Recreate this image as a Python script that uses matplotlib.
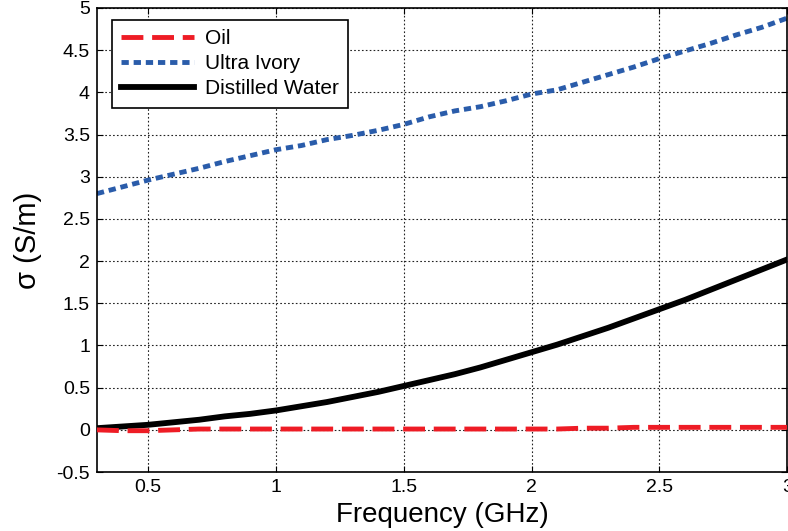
import numpy as np
import matplotlib.pyplot as plt

plt.rcParams['font.family'] = ['Liberation Sans', 'DejaVu Sans']

freq = [0.3, 0.4, 0.5, 0.6, 0.7, 0.8, 0.9, 1.0, 1.1, 1.2, 1.3, 1.4, 1.5, 1.6,
        1.7, 1.8, 1.9, 2.0, 2.1, 2.2, 2.3, 2.4, 2.5, 2.6, 2.7, 2.8, 2.9, 3.0]
oil = [0.0, -0.01, -0.01, 0.0, 0.01, 0.01, 0.01, 0.01, 0.01, 0.01, 0.01, 0.01, 0.01, 0.01,
       0.01, 0.01, 0.01, 0.01, 0.01, 0.02, 0.02, 0.03, 0.03, 0.03, 0.03, 0.03, 0.03, 0.03]
ivory = [2.80, 2.88, 2.96, 3.03, 3.10, 3.18, 3.25, 3.32, 3.37, 3.44, 3.49, 3.55, 3.62, 3.71,
         3.78, 3.83, 3.90, 3.98, 4.03, 4.12, 4.21, 4.30, 4.40, 4.49, 4.58, 4.68, 4.77, 4.88]
water = [0.02, 0.04, 0.06, 0.09, 0.12, 0.16, 0.19, 0.23, 0.28, 0.33, 0.39, 0.45, 0.52, 0.59,
         0.66, 0.74, 0.83, 0.92, 1.01, 1.11, 1.21, 1.32, 1.43, 1.54, 1.66, 1.78, 1.90, 2.02]

fig = plt.figure(figsize=(7.88, 5.31), dpi=100)
ax = fig.add_axes([0.123, 0.111, 0.876, 0.874])

ax.plot(freq, oil, color='#ee1c25', lw=3.5, dashes=(4.5, 1.8), label='Oil', zorder=3)
ax.plot(freq, ivory, color='#2a5caa', lw=3.5, dashes=(1.5, 1.0), label='Ultra Ivory')
ax.plot(freq, water, color='black', lw=4.2, label='Distilled Water')

ax.set_xlim(0.3, 3)
ax.set_ylim(-0.5, 5)
ax.set_xticks([0.5, 1, 1.5, 2, 2.5, 3])
ax.set_xticklabels(['0.5', '1', '1.5', '2', '2.5', '3'])
ax.set_yticks(np.arange(-0.5, 5.01, 0.5))
ax.set_yticklabels(['-0.5', '0', '0.5', '1', '1.5', '2', '2.5', '3', '3.5', '4', '4.5', '5'])
ax.tick_params(direction='in', top=True, right=True, labelsize=14, length=4, pad=5)
ax.grid(True, color='#222222', linestyle=(0, (1.5, 2)), lw=0.8)
for s in ax.spines.values():
    s.set_linewidth(1.2)

ax.set_xlabel('Frequency (GHz)', fontsize=20, labelpad=4)
ax.set_ylabel('σ (S/m)', fontsize=21, labelpad=10)

leg = ax.legend(loc='upper left', bbox_to_anchor=(0.022, 0.975), fontsize=15,
                handlelength=3.5, fancybox=False, framealpha=1, borderaxespad=0,
                labelspacing=0.3, handletextpad=0.5, borderpad=0.45)
leg.get_frame().set_edgecolor('black')
leg.get_frame().set_linewidth(1.2)

fig.savefig('out.png', dpi=100)
